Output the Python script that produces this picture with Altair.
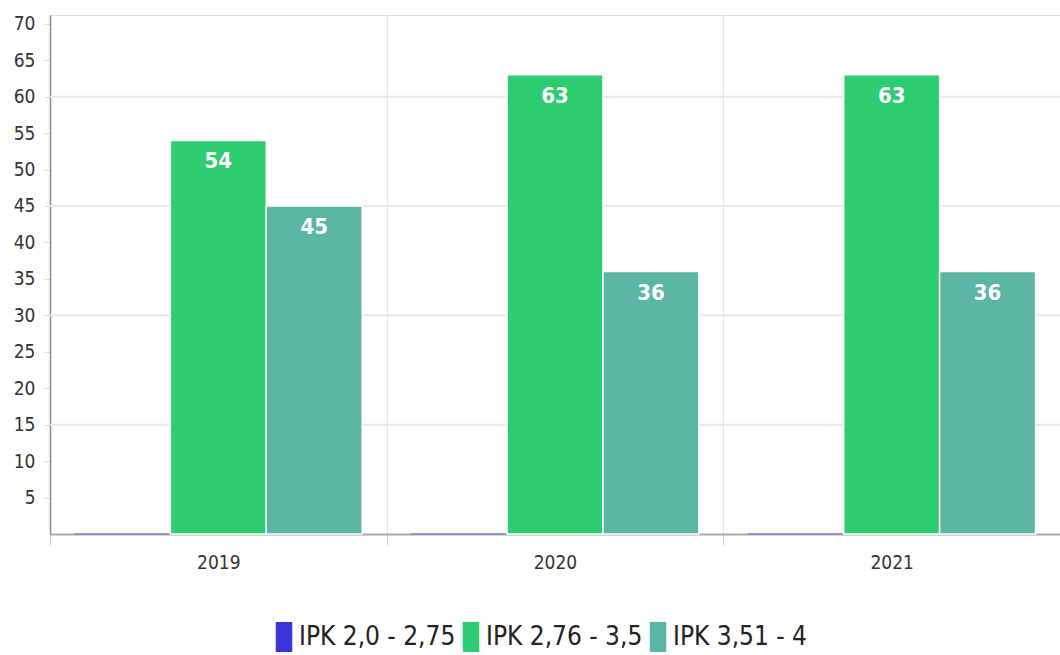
import altair as alt
import pandas as pd

years = ["2019", "2020", "2021"]
series = ["IPK 2,0 - 2,75", "IPK 2,76 - 3,5", "IPK 3,51 - 4"]
ipk_low = [0, 0, 0]
ipk_mid = [54, 63, 63]
ipk_high = [45, 36, 36]
colors = ["#3a36db", "#2ecc71", "#5ab5a3"]
y_ticks = list(range(5, 75, 5))
y_grid = [15, 30, 45, 60]

rows = []
for i, y in enumerate(years):
    for s, vals in zip(series, [ipk_low, ipk_mid, ipk_high]):
        rows.append({"year": y, "series": s, "value": vals[i]})
df = pd.DataFrame(rows)
grid_df = pd.DataFrame({"value": y_grid})

FONT = "'Liberation Sans Narrow', 'DejaVu Sans Condensed', 'Open Sans'"

yscale = alt.Scale(domain=[0, 71.2], nice=False)
xscale = alt.Scale(paddingInner=0, paddingOuter=0)

x_axis = alt.Axis(
    labelAngle=0,
    labelFontSize=19,
    labelColor="#333333",
    labelFont=FONT,
    labelPadding=8,
    domainColor="#aaaaaa",
    domainWidth=2,
    tickColor="#cccccc",
    tickSize=11,
    tickBand="extent",
    bandPosition=0,
    grid=True,
    gridColor="#e6e6e6",
    gridWidth=1,
    title=None,
)
y_axis = alt.Axis(
    values=y_ticks,
    labelOverlap=False,
    labelFontSize=19,
    labelColor="#333333",
    labelFont=FONT,
    labelPadding=9,
    domainColor="#888888",
    domainWidth=1.5,
    tickColor="#dddddd",
    tickSize=6,
    grid=False,
    title=None,
)

x_enc = alt.X("year:N", sort=years, title=None, scale=xscale, axis=x_axis)
y_enc = alt.Y("value:Q", title=None, scale=yscale, axis=y_axis)
xoff = alt.XOffset(
    "series:N",
    sort=series,
    scale=alt.Scale(paddingInner=0, paddingOuter=0.255),
)

grid = alt.Chart(grid_df).mark_rule(color="#e8e8e8", strokeWidth=2).encode(y=y_enc)

bars = alt.Chart(df).mark_bar(strokeWidth=1.5).encode(
    x=x_enc,
    xOffset=xoff,
    y=y_enc,
    color=alt.Color(
        "series:N",
        sort=series,
        scale=alt.Scale(domain=series, range=colors),
        legend=alt.Legend(
            title=None,
            orient="none",
            legendX=219,
            legendY=607,
            direction="horizontal",
            symbolType="M-0.55,-1H0.55V1H-0.55Z",
            symbolSize=900,
            symbolStrokeWidth=0,
            labelFontSize=26,
            labelFont=FONT,
            labelColor="#222222",
            labelOffset=0,
            columnPadding=0,
            symbolOpacity=1,
        ),
    ),
    stroke=alt.condition("datum.value == 0", alt.value("#8a80d8"), alt.value("white")),
)

labels = alt.Chart(df).transform_filter("datum.value > 0").mark_text(
    color="white", fontSize=22, fontWeight="bold", font=FONT, baseline="middle", dy=21
).encode(
    x=x_enc,
    xOffset=xoff,
    y=y_enc,
    text="value:Q",
)

chart = (
    alt.layer(grid, bars, labels)
    .properties(
        width=1010,
        height=519,
        autosize=alt.AutoSizeParams(type="none"),
        padding={"left": 50, "top": 15, "right": 0, "bottom": 121},
    )
    .configure_axis(labelOverlap=False)
    .configure_view(strokeWidth=0, strokeOpacity=0)
    .configure(background="white")
)

chart.save("out.html", embed_options={"renderer": "svg", "actions": False})
